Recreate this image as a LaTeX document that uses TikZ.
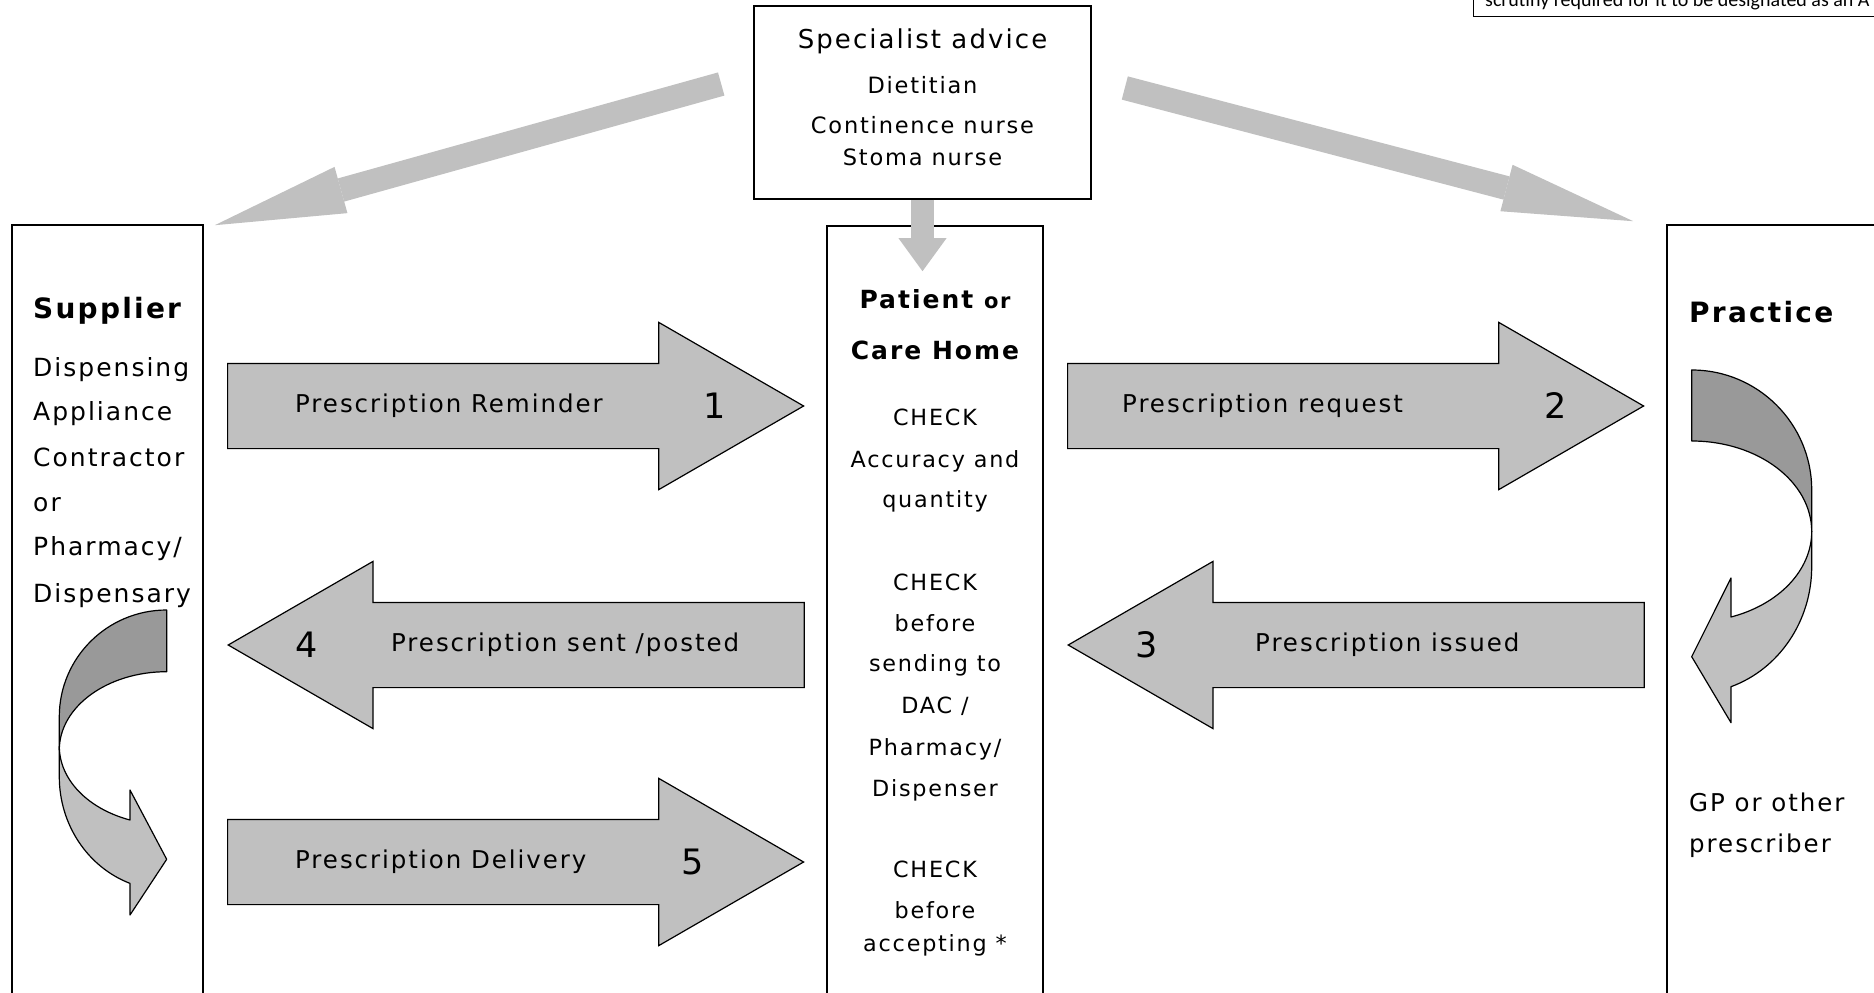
\documentclass[tikz,border=0pt]{standalone}
\usepackage{fontspec}
\setmainfont{DejaVu Sans}[LetterSpace=8]
\newfontfamily\noteFont{Carlito}
\usetikzlibrary{shapes.arrows, arrows.meta, positioning, calc}
\definecolor{arrowGrey}{HTML}{C0C0C0}
\definecolor{curlGrey}{HTML}{999999}
\tikzstyle{party} = [rectangle, draw=black, line width=1.6pt, inner sep=0pt]
\tikzstyle{stepArrow} = [single arrow, draw=black, line width=1.2pt, fill=arrowGrey, inner xsep=0pt, inner ysep=42pt, minimum height=576pt, minimum width=166pt, single arrow head extend=41pt, single arrow tip angle=60]
\tikzstyle{stepText} = [inner sep=0pt, anchor=west, font=\fontsize{24.5}{29}\selectfont]
\tikzstyle{stepNum} = [inner sep=0pt, font=\fontsize{35}{40}\selectfont]
\tikzstyle{curl} = [draw=black, line width=1.2pt, line join=round]
\tikzset{
	bodyText/.style = {inner sep=0pt, font=\fontsize{#1}{#1}\selectfont},
	headText/.style = {inner sep=0pt, font=\bfseries\fontsize{#1}{#1}\selectfont},
	fatArrow/.style = {draw=arrowGrey, line width=24pt, -{Triangle[length=131pt, width=48pt, line width=0pt]}},
	dropArrow/.style = {draw=arrowGrey, line width=23pt, -{Triangle[length=33pt, width=48pt, line width=0pt]}}
}

\begin{document}
\begin{tikzpicture}[x=1pt, y=-1pt]
\useasboundingbox (0,0) rectangle (1874,993);
\fill[white] (0,0) rectangle (1874,993);
\clip (0,0) rectangle (1874,993);
%----------------------------------------------------------------------------
% Boxes
\node (specialist) [party, minimum width=337pt, minimum height=193pt] at (922.5,102.5) {};
\node (supplier) [party, minimum width=191pt, minimum height=800pt] at (107.5,625) {};
\node (patient) [party, minimum width=216pt, minimum height=800pt] at (935,626) {};
\node (practice) [party, minimum width=230pt, minimum height=800pt] at (1782,625) {};

% note box cut off at the corner
\draw [line width=1pt] (1473,-20) -- (1473,16) -- (1890,16);
\node (noteText) [anchor=base west, inner sep=0pt, font=\noteFont\fontsize{20}{24}\selectfont] at (1485,6) {scrutiny required for it to be designated as an A};

%----------------------------------------------------------------------------
% Box texts
\node (specHead) [bodyText=26] at (922.5,41) {Specialist advice};
\node (specDiet) [bodyText=22.5] at (922.5,85) {Dietitian};
\node (specCont) [bodyText=22.5] at (922.5,125) {Continence nurse};
\node (specStoma) [bodyText=22.5] at (922.5,157) {Stoma nurse};

\node (supHead) [headText=28, anchor=west] at (33,311) {Supplier};
\foreach \txt/\yy [count=\i] in {Dispensing/376, Appliance/420, Contractor/466, or/511, {Pharmacy/}/555, Dispensary/602}
	\node (supLine\i) [bodyText=25, anchor=base west] at (33,\yy) {\txt};

\node (patHead) [headText=25, anchor=base] at (935,308) {Patient {\fontsize{21}{21}\selectfont or}};
\node (patHeadB) [headText=25, anchor=base] at (935,359) {Care Home};
\foreach \txt/\yy [count=\i] in {CHECK/425, Accuracy and/467, quantity/507, CHECK/590, before/631, sending to/671, {DAC /}/713, {Pharmacy/}/755, Dispenser/796, CHECK/877, before/918, accepting */951}
	\node (patLine\i) [bodyText=22.3, anchor=base] at (935,\yy) {\txt};

\node (pracHead) [headText=28, anchor=west] at (1689,312) {Practice};
\node (pracGP) [bodyText=24.5, anchor=west] at (1689,802) {GP or other};
\node (pracPres) [bodyText=24.5, anchor=west] at (1689,846) {prescriber};

%----------------------------------------------------------------------------
% Step arrows
\node (remindArrow) [stepArrow, anchor=tail] at (227,406) {};
\node (requestArrow) [stepArrow, anchor=tail] at (1067,406) {};
\node (issuedArrow) [stepArrow, shape border rotate=180, anchor=tip] at (1067,645) {};
\node (sentArrow) [stepArrow, shape border rotate=180, anchor=tip] at (227,645) {};
\node (deliveryArrow) [stepArrow, anchor=tail] at (227,862) {};

\node (remindText) [stepText] at ([xshift=68pt]remindArrow.tail) {Prescription Reminder};
\node (remindNum) [stepNum] at ([xshift=-90pt]remindArrow.tip) {1};
\node (requestText) [stepText] at ([xshift=55pt]requestArrow.tail) {Prescription request};
\node (requestNum) [stepNum] at ([xshift=-89pt]requestArrow.tip) {2};
\node (issuedText) [stepText] at ([xshift=188pt]issuedArrow.tip) {Prescription issued};
\node (issuedNum) [stepNum] at ([xshift=80pt]issuedArrow.tip) {3};
\node (sentText) [stepText] at ([xshift=164pt]sentArrow.tip) {Prescription sent /posted};
\node (sentNum) [stepNum] at ([xshift=80pt]sentArrow.tip) {4};
\node (deliveryText) [stepText] at ([xshift=68pt]deliveryArrow.tail) {Prescription Delivery};
\node (deliveryNum) [stepNum] at ([xshift=-112pt]deliveryArrow.tip) {5};

%----------------------------------------------------------------------------
% Advice arrows
\coordinate (dropEnd) at ($(specialist.south |- patient.north)+(0,46)$);
\draw [fatArrow] ([xshift=-32pt, yshift=18.5pt]specialist.west) -- ([xshift=11pt, yshift=-1pt]supplier.north east);
\draw [fatArrow] ([xshift=33pt, yshift=14.5pt]specialist.east) -- ([xshift=-33pt, yshift=3pt]practice.north west);
\draw [dropArrow] (specialist.south) -- (dropEnd);

%----------------------------------------------------------------------------
% Curved arrows
\draw [curl, fill=arrowGrey] (59.3,750) -- (59.3,776.7) arc[start angle=180, end angle=110, x radius=107.4, y radius=113.5]
	-- (130,915) -- (166.7,859.3) -- (130,790) -- (130,820)
	arc[start angle=110, end angle=180, x radius=107.4, y radius=78.3] -- cycle;
\draw [curl, fill=curlGrey] (166.7,610) arc[start angle=270, end angle=180, x radius=107.4, y radius=106.7]
	-- (59.3,750) arc[start angle=180, end angle=270, x radius=107.4, y radius=78.3] -- cycle;

\draw [curl, fill=arrowGrey] (1811.7,531.7) -- (1811.7,566.7) arc[start angle=0, end angle=70.9, x radius=120, y radius=127]
	-- (1731,722.7) -- (1691.7,656.7) -- (1731,578) -- (1731,617)
	arc[start angle=70.9, end angle=0, x radius=120, y radius=90.7] -- cycle;
\draw [curl, fill=curlGrey] (1691.7,370) arc[start angle=270, end angle=360, x radius=120, y radius=120]
	-- (1811.7,531.7) arc[start angle=0, end angle=-90, x radius=120, y radius=90.7] -- cycle;

\end{tikzpicture}
\end{document}
